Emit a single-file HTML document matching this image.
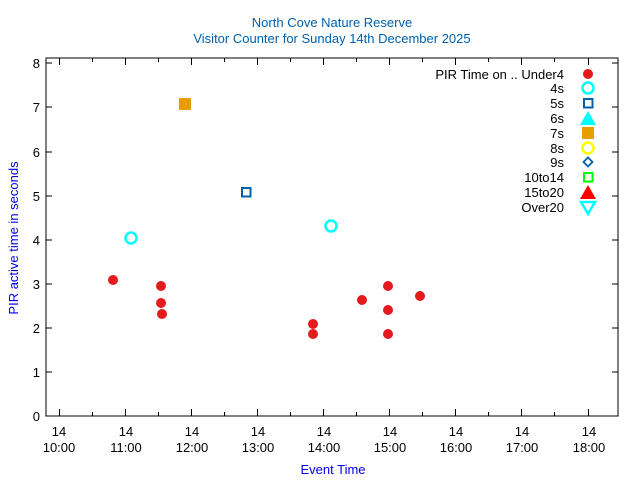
<!DOCTYPE html>
<html><head><style>body{margin:0;background:#fff}svg{display:block}text{font-family:"Liberation Sans",sans-serif}</style></head><body>
<svg width="640" height="480" xmlns="http://www.w3.org/2000/svg">
<rect width="640" height="480" fill="#fff"/>
<text x="332" y="27" text-anchor="middle" font-size="13" fill="#0060ad">North Cove Nature Reserve</text>
<text x="332" y="43" text-anchor="middle" font-size="13" fill="#0060ad">Visitor Counter for Sunday 14th December 2025</text>
<rect x="46" y="58" width="572" height="358" fill="none" stroke="#000" stroke-width="1"/>
<g stroke="#000" stroke-width="1">
<path d="M46 416h6M46 372h6M46 328h6M46 284h6M46 240h6M46 196h6M46 152h6M46 107h6M46 63h6"/>
<path d="M618 416h-6M618 372h-6M618 328h-6M618 284h-6M618 240h-6M618 196h-6M618 152h-6M618 107h-6M618 63h-6"/>
<path d="M59.5 416v-7M125.5 416v-7M191.5 416v-7M257.5 416v-7M323.5 416v-7M389.5 416v-7M455.5 416v-7M521.5 416v-7M588.5 416v-7"/>
<path d="M92.5 416v-4M158.5 416v-4M224.5 416v-4M290.5 416v-4M356.5 416v-4M422.5 416v-4M488.5 416v-4M554.5 416v-4"/>
<path d="M59.5 58v7M125.5 58v7M191.5 58v7M257.5 58v7M323.5 58v7M389.5 58v7M455.5 58v7M521.5 58v7M588.5 58v7"/>
<path d="M92.5 58v4M158.5 58v4M224.5 58v4M290.5 58v4M356.5 58v4M422.5 58v4M488.5 58v4M554.5 58v4"/>
</g>
<g font-size="13" text-anchor="end" fill="#000">
<text x="40" y="421">0</text><text x="40" y="377">1</text><text x="40" y="333">2</text><text x="40" y="289">3</text><text x="40" y="245">4</text><text x="40" y="201">5</text><text x="40" y="157">6</text><text x="40" y="112">7</text><text x="40" y="68">8</text>
</g>
<g font-size="13" text-anchor="middle" fill="#000">
<text x="59" y="436">14</text><text x="59" y="452">10:00</text>
<text x="126" y="436">14</text><text x="126" y="452">11:00</text>
<text x="192" y="436">14</text><text x="192" y="452">12:00</text>
<text x="258" y="436">14</text><text x="258" y="452">13:00</text>
<text x="324" y="436">14</text><text x="324" y="452">14:00</text>
<text x="390" y="436">14</text><text x="390" y="452">15:00</text>
<text x="456" y="436">14</text><text x="456" y="452">16:00</text>
<text x="522" y="436">14</text><text x="522" y="452">17:00</text>
<text x="589" y="436">14</text><text x="589" y="452">18:00</text>
</g>
<text x="333" y="474" text-anchor="middle" font-size="13" fill="#0000ee">Event Time</text>
<text transform="translate(18,238) rotate(-90)" text-anchor="middle" font-size="13" fill="#0000ee">PIR active time in seconds</text>
<g fill="#e41a1c">
<circle cx="113" cy="280" r="5"/><circle cx="161" cy="286" r="5"/><circle cx="161" cy="303" r="5"/><circle cx="162" cy="314" r="5"/>
<circle cx="313" cy="324" r="5"/><circle cx="313" cy="334" r="5"/><circle cx="362" cy="300" r="5"/><circle cx="388" cy="286" r="5"/>
<circle cx="388" cy="310" r="5"/><circle cx="388" cy="334" r="5"/><circle cx="420" cy="296" r="5"/>
</g>
<circle cx="131" cy="238" r="5.5" fill="none" stroke="#00ffff" stroke-width="2.5"/>
<circle cx="331" cy="226" r="5.5" fill="none" stroke="#00ffff" stroke-width="2.5"/>
<rect x="242" y="188" width="8.5" height="8.5" fill="none" stroke="#0060ad" stroke-width="2"/>
<rect x="179" y="98" width="12" height="12" fill="#e69f00"/>
<g font-size="13" text-anchor="end" fill="#000">
<text x="564" y="79">PIR Time on .. Under4</text><text x="564" y="93">4s</text><text x="564" y="108">5s</text><text x="564" y="123">6s</text><text x="564" y="138">7s</text><text x="564" y="153">8s</text><text x="564" y="167">9s</text><text x="564" y="182">10to14</text><text x="564" y="197">15to20</text><text x="564" y="212">Over20</text>
</g>
<circle cx="588" cy="74" r="5" fill="#e41a1c"/>
<circle cx="588" cy="88" r="5.5" fill="none" stroke="#00ffff" stroke-width="2.5"/>
<rect x="584" y="99" width="8.5" height="8.5" fill="none" stroke="#0060ad" stroke-width="2"/>
<polygon points="588,111 580,125 596,125" fill="#00ffff"/>
<rect x="582" y="127" width="12" height="12" fill="#e69f00"/>
<circle cx="588" cy="148" r="5.5" fill="none" stroke="#ffff00" stroke-width="2.5"/>
<polygon points="588,157.5 592.5,162 588,166.5 583.5,162" fill="none" stroke="#0060ad" stroke-width="1.8"/>
<rect x="584" y="173" width="8.5" height="8.5" fill="none" stroke="#00ff00" stroke-width="2"/>
<polygon points="588,185 580,199 596,199" fill="#ff0000"/>
<polygon points="581,202 595,202 588,214" fill="none" stroke="#00ffff" stroke-width="2.5"/>
</svg>
</body></html>
